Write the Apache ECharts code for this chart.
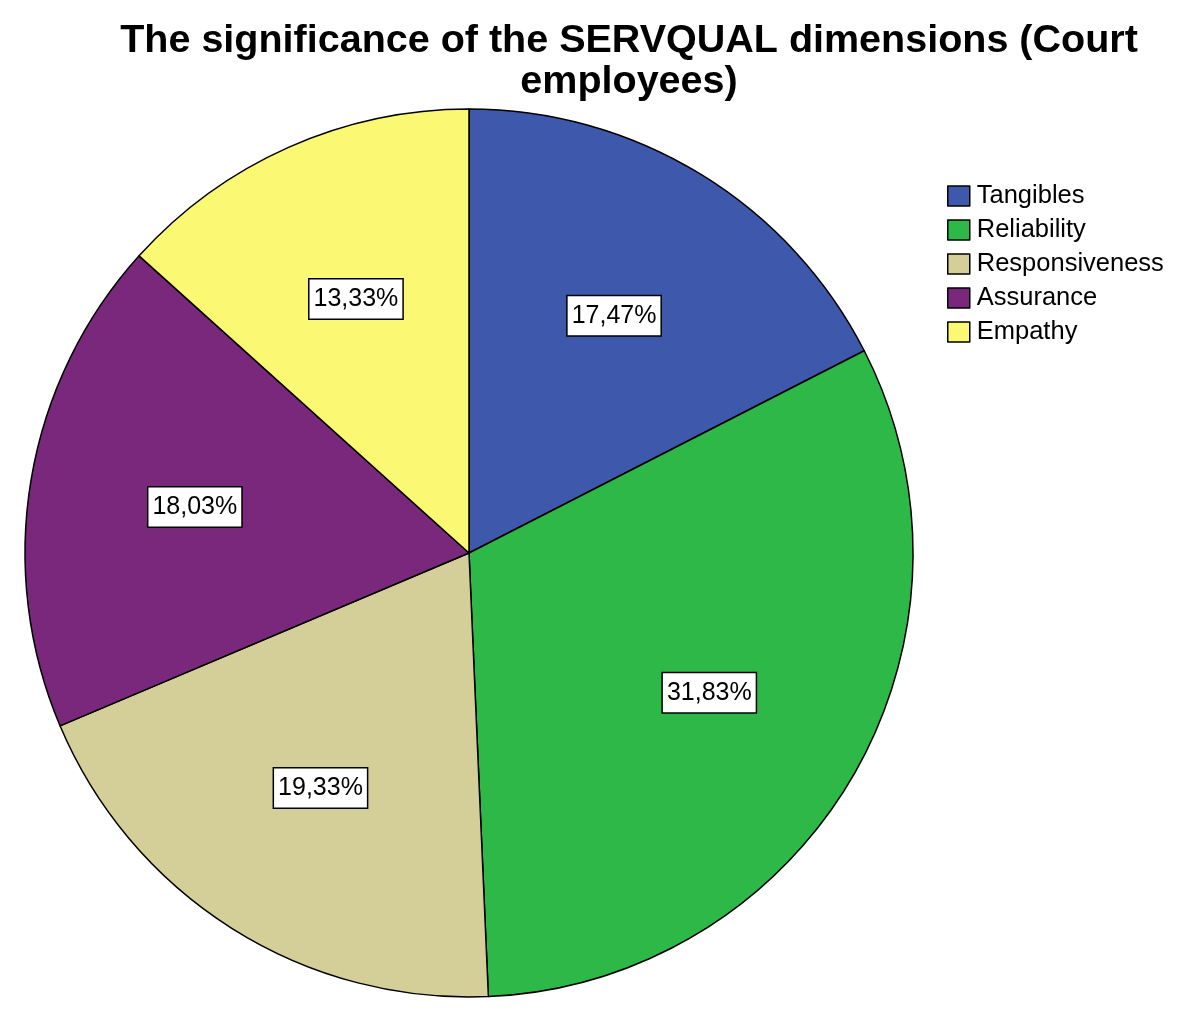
<!DOCTYPE html>
<html>
<head>
<meta charset="utf-8">
<script src="https://cdn.jsdelivr.net/npm/echarts@6/dist/echarts.min.js"></script>
<style>
  html, body { margin: 0; padding: 0; background: #fff; }
  #chart { width: 1200px; height: 1025px; }
</style>
</head>
<body>
<div id="chart"></div>
<script>
// SERVQUAL dimensions, court employees
var dimensions = ['Tangibles', 'Reliability', 'Responsiveness', 'Assurance', 'Empathy'];
var shares = [17.47, 31.83, 19.33, 18.03, 13.33];
var colors = ['#3e58ac', '#2eb848', '#d4ce98', '#79287c', '#fbf873'];

var pieData = [];
for (var i = 0; i < dimensions.length; i++) {
    pieData.push({ name: dimensions[i], value: shares[i] });
}

function fmtPct(p) {
    // comma as decimal separator
    return p.value.toFixed(2).replace('.', ',') + '%';
}

var chart = echarts.init(document.getElementById('chart'));
var option = {
    animation: false,
    color: colors,
    title: {
        text: 'The significance of the SERVQUAL dimensions (Court\nemployees)',
        left: 624,
        top: 16,
        textAlign: 'center',
        textStyle: {
            fontFamily: 'Liberation Sans',
            fontWeight: 'bold',
            fontSize: 39.5,
            lineHeight: 41,
            color: '#000'
        }
    },
    legend: {
        orient: 'vertical',
        left: 942,
        top: 178,
        itemWidth: 22,
        itemHeight: 20,
        itemGap: 8,
        icon: 'rect',
        itemStyle: { borderColor: '#000', borderWidth: 1.5 },
        textStyle: { fontFamily: 'Liberation Sans', fontSize: 25.5, lineHeight: 26, color: '#000', padding: [0, 0, 0, 2] },
        data: dimensions
    },
    series: [{
        type: 'pie',
        center: [469, 553],
        radius: 444,
        startAngle: 90,
        clockwise: true,
        silent: true,
        itemStyle: { borderColor: '#000', borderWidth: 1.5 },
        label: { show: false },
        labelLine: { show: false },
        data: pieData
    }, {
        // invisible ring used only to place the percentage boxes further out
        type: 'pie',
        center: [469, 553],
        radius: 550,
        startAngle: 90,
        clockwise: true,
        silent: true,
        legendHoverLink: false,
        itemStyle: { color: 'rgba(0,0,0,0)', borderWidth: 0 },
        label: {
            show: true,
            position: 'inside',
            formatter: fmtPct,
            fontFamily: 'Liberation Sans',
            fontSize: 25,
            color: '#000',
            backgroundColor: '#fff',
            borderColor: '#000',
            borderWidth: 1.5,
            padding: [8, 4, 6, 4]
        },
        labelLine: { show: false },
        data: pieData
    }]
};
chart.setOption(option);
</script>
</body>
</html>
